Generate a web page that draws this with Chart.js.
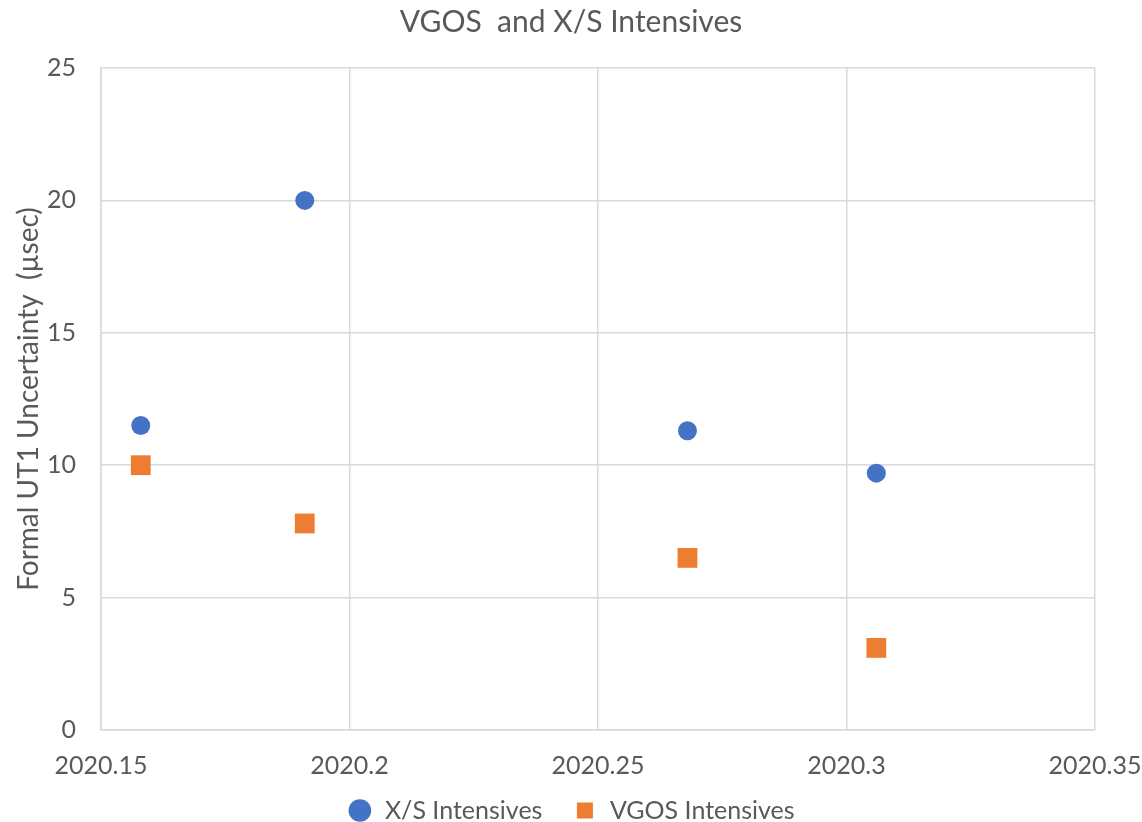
<!DOCTYPE html>
<html>
<head>
<meta charset="utf-8">
<script src="https://cdn.jsdelivr.net/npm/chart.js"></script>
<style>
  html, body { margin: 0; padding: 0; background: #fff; }
  #wrap { width: 1142px; height: 822px; }
</style>
</head>
<body>
<div id="wrap">
  <canvas id="myChart" width="1142" height="822"></canvas>
</div>
<script>
    // epoch (year) of each session
    const xsEpochs = [2020.158, 2020.191, 2020.268, 2020.306];
    const xsValues = [11.5, 20.0, 11.3, 9.7];
    const vgosEpochs = [2020.158, 2020.191, 2020.268, 2020.306];
    const vgosValues = [10.0, 7.8, 6.5, 3.1];
    const xTicks = [2020.15, 2020.2, 2020.25, 2020.3, 2020.35];
    const yTicks = [0, 5, 10, 15, 20, 25];

    const textColor = '#595959';
    const gridColor = '#d9d9d9';
    const fontFamily = 'Lato, "Open Sans", sans-serif';

    function toPoints(xs, ys) {
        return xs.map((x, i) => ({ x: x, y: ys[i] }));
    }

    const ctx = document.getElementById('myChart');
    myChart = new Chart(ctx, {
        type: 'scatter',
        data: {
            datasets: [{
                label: 'X/S Intensives',
                data: toPoints(xsEpochs, xsValues),
                pointStyle: 'circle',
                pointRadius: 9.5,
                pointHoverRadius: 9.5,
                backgroundColor: '#4472C4',
                borderColor: '#4472C4',
                borderWidth: 0
            }, {
                label: 'VGOS Intensives',
                data: toPoints(vgosEpochs, vgosValues),
                pointStyle: 'rect',
                pointRadius: 14,
                pointHoverRadius: 14,
                backgroundColor: '#ED7D31',
                borderColor: '#ED7D31',
                borderWidth: 0
            }]
        },
        options: {
            responsive: false,
            animation: false,
            layout: {
                // legend sits a bit lower than chart.js would put it
                padding: { left: 0, right: 0, top: 0, bottom: -11 }
            },
            plugins: {
                title: {
                    display: true,
                    text: 'VGOS  and X/S Intensives',
                    color: textColor,
                    font: { family: fontFamily, size: 30, weight: 'normal' },
                    padding: { top: 4, bottom: 28 }
                },
                legend: {
                    position: 'bottom',
                    labels: {
                        usePointStyle: true,
                        boxHeight: 16,
                        color: textColor,
                        padding: 30,
                        font: { family: fontFamily, size: 25, lineHeight: 1.0 }
                    }
                },
                tooltip: { enabled: false }
            },
            scales: {
                x: {
                    type: 'linear',
                    min: xTicks[0],
                    max: xTicks[xTicks.length - 1],
                    afterBuildTicks: axis => { axis.ticks = xTicks.map(v => ({ value: v })); },
                    afterFit: axis => {
                        axis.height = 38;
                        axis.paddingLeft = 0;
                        axis.paddingRight = 47;
                        axis._computeLabelArea = () => null; // don't clip labels to the axis box
                    },
                    grid: { color: gridColor, lineWidth: 1.5, drawTicks: false },
                    border: { color: gridColor, width: 1.5 },
                    ticks: {
                        color: textColor,
                        padding: 21,
                        maxRotation: 0,
                        font: { family: fontFamily, size: 25 },
                        callback: v => String(Number(v.toFixed(2)))
                    }
                },
                y: {
                    min: 0,
                    max: 25,
                    afterBuildTicks: axis => { axis.ticks = yTicks.map(v => ({ value: v })); },
                    afterFit: axis => { axis.width = 101; },
                    grid: { color: gridColor, lineWidth: 1.5, drawTicks: false },
                    border: { color: gridColor, width: 1.5 },
                    title: {
                        display: true,
                        text: 'Formal UT1 Uncertainty  (µsec)',
                        color: textColor,
                        font: { family: fontFamily, size: 28 },
                        padding: { top: 12, bottom: 0 }
                    },
                    ticks: {
                        color: textColor,
                        padding: 25,
                        font: { family: fontFamily, size: 25 }
                    }
                }
            }
        }
    });
</script>
</body>
</html>
